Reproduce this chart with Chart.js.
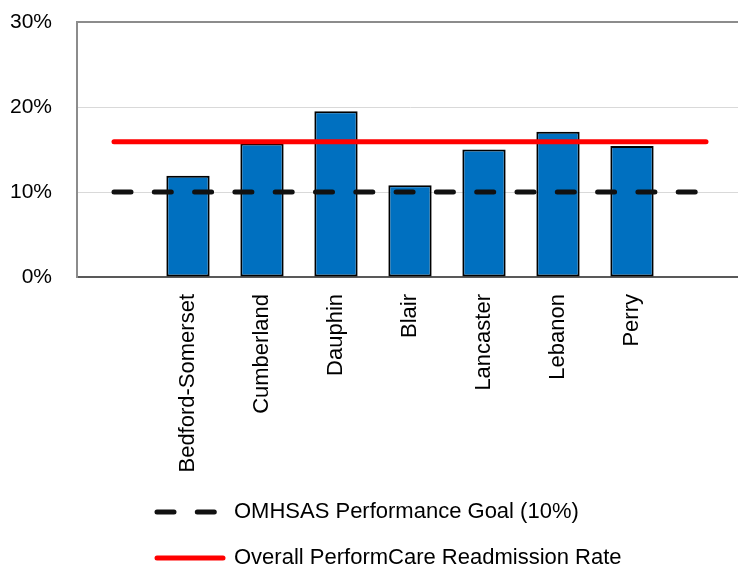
<!DOCTYPE html>
<html>
<head>
<meta charset="utf-8">
<script src="https://cdn.jsdelivr.net/npm/chart.js@4"></script>
<style>
  html, body { margin: 0; padding: 0; background: #fff; overflow: hidden; }
  #wrap { width: 743px; height: 579px; position: relative; }
</style>
</head>
<body>
<div id="wrap"><canvas id="chart"></canvas></div>
<script>
// readmission rates by county (percent); blank slots pad the reference lines
const counties = ['', 'Bedford-Somerset', 'Cumberland', 'Dauphin', 'Blair', 'Lancaster', 'Lebanon', 'Perry', ''];
const rates = [null, 11.9, 15.7, 19.5, 10.8, 15.0, 17.1, 15.4, null];
const goalLine = [10, 10, 10, 10, 10, 10, 10, 10, 10];
const overallLine = [15.9, 15.9, 15.9, 15.9, 15.9, 15.9, 15.9, 15.9, 15.9];
const yTicks = [0, 10, 20, 30];

const FONT = "'Liberation Sans', Arial, sans-serif";

// default legend items, but keep the dash / width of the line datasets
function legendItems(chart) {
  const items = Chart.defaults.plugins.legend.labels.generateLabels(chart);
  items.forEach(it => {
    const ds = chart.data.datasets[it.datasetIndex];
    it.lineWidth = ds.borderWidth;
    it.lineDash = ds.borderDash || [];
    it.lineCap = ds.borderCapStyle;
    it.strokeStyle = ds.borderColor;
    it.pointStyle = 'line';
  });
  return items.filter(it => chart.data.datasets[it.datasetIndex].type === 'line');
}

// legend rows sit left aligned under the plot
const legendShift = {
  id: 'legendShift',
  afterLayout(chart) {
    chart.legend.left += 133;
  },
};

new Chart(document.getElementById('chart'), {
  type: 'bar',
  data: {
    labels: counties,
    datasets: [
      {
        type: 'line',
        label: 'OMHSAS Performance Goal (10%)',
        data: goalLine,
        borderColor: '#111111',
        borderWidth: 5,
        borderDash: [17, 23.3],
        borderCapStyle: 'round',
        pointRadius: 0,
        fill: false,
        order: 1,
      },
      {
        type: 'line',
        label: 'Overall PerformCare Readmission Rate',
        data: overallLine,
        borderColor: '#ff0000',
        borderWidth: 5,
        borderCapStyle: 'round',
        pointRadius: 0,
        fill: false,
        order: 2,
      },
      {
        label: 'Readmission Rate',
        data: rates,
        backgroundColor: '#0070c0',
        borderColor: '#000000',
        borderWidth: 2,
        borderSkipped: false,
        barPercentage: 0.585,
        categoryPercentage: 1,
        order: 3,
      },
    ],
  },
  options: {
    responsive: true,
    maintainAspectRatio: false,
    animation: false,
    layout: { padding: { top: 22, left: 0, right: 0, bottom: 0 } },
    plugins: {
      tooltip: { enabled: false },
      legend: {
        position: 'bottom',
        align: 'start',
        labels: {
          usePointStyle: true,
          pointStyleWidth: 66,
          padding: 24,
          color: '#000',
          font: { family: FONT, size: 22 },
          generateLabels: legendItems,
        },
      },
    },
    scales: {
      x: {
        grid: { display: false, drawTicks: false },
        border: { display: true, color: '#595959', width: 2 },
        ticks: {
          autoSkip: false,
          maxRotation: 90,
          minRotation: 90,
          padding: 17,
          color: '#000',
          font: { family: FONT, size: 22 },
        },
        afterFit(scale) {
          scale.height = 200;
          scale.paddingLeft = 0;
          scale.paddingRight = 0;
        },
      },
      y: {
        min: 0,
        max: 30,
        afterBuildTicks(scale) { scale.ticks = yTicks.map(v => ({ value: v })); },
        grid: {
          drawTicks: false,
          color: (c) => c.tick && c.tick.value === 30 ? '#8c8c8c' : (c.tick && c.tick.value === 0 ? 'rgba(0,0,0,0)' : '#d9d9d9'),
          lineWidth: (c) => c.tick && c.tick.value === 30 ? 2 : 1,
        },
        border: { display: true, color: '#8c8c8c', width: 2 },
        ticks: {
          padding: 25,
          color: '#000',
          font: { family: FONT, size: 21 },
          callback: (v) => v + '%',
        },
        afterFit(scale) {
          scale.width = 77;
          scale.paddingTop = 0;
          scale.paddingBottom = 0;
        },
      },
    },
  },
  plugins: [legendShift],
});
</script>
</body>
</html>
